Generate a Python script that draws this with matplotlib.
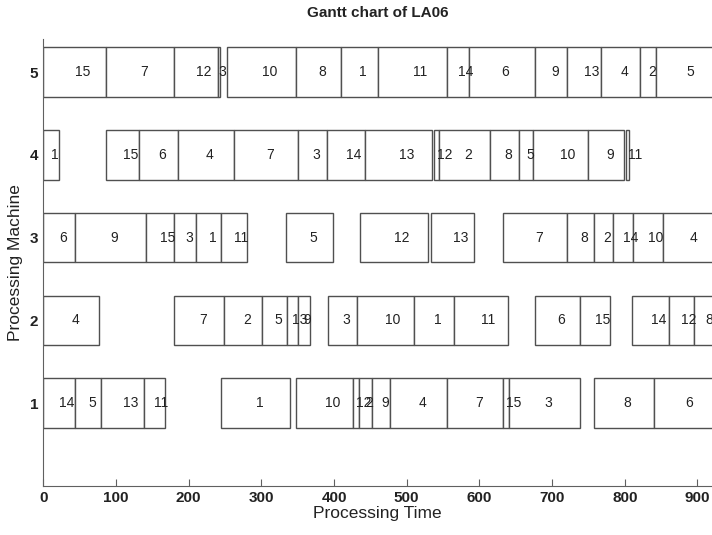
import matplotlib.pyplot as plt
from matplotlib.patches import Rectangle

plt.rcParams['font.family'] = ['Liberation Sans', 'DejaVu Sans']

# operations per machine: job number, start time, end time
m1_jobs = [14, 5, 13, 11, 1, 10, 12, 2, 9, 4, 7, 15, 3, 8, 6]
m1_start = [0, 43, 80, 139, 245, 348, 426, 435, 452, 477, 556, 632, 641, 757, 840]
m1_end = [43, 80, 139, 167, 340, 426, 435, 452, 477, 556, 632, 641, 739, 840, 926]

m2_jobs = [4, 7, 2, 5, 13, 9, 3, 10, 1, 11, 6, 15, 14, 12, 8]
m2_start = [0, 180, 249, 301, 335, 350, 392, 431, 510, 565, 676, 738, 810, 861, 895]
m2_end = [77, 249, 301, 335, 350, 367, 431, 510, 565, 640, 738, 780, 861, 895, 926]

m3_jobs = [6, 9, 15, 3, 1, 11, 5, 12, 13, 7, 8, 2, 14, 10, 4]
m3_start = [0, 43, 141, 180, 210, 245, 334, 436, 533, 633, 720, 758, 784, 811, 853]
m3_end = [43, 141, 180, 210, 245, 280, 399, 529, 593, 720, 758, 784, 811, 853, 926]

m4_jobs = [1, 15, 6, 4, 7, 3, 14, 13, 12, 2, 8, 5, 10, 9, 11]
m4_start = [0, 86, 132, 185, 263, 350, 391, 443, 538, 544, 614, 655, 674, 749, 802]
m4_end = [21, 132, 185, 263, 350, 391, 443, 535, 544, 614, 655, 674, 749, 799, 806]

m5_jobs = [15, 7, 12, 3, 10, 8, 1, 11, 14, 6, 9, 13, 4, 2, 5]
m5_start = [0, 86, 180, 240, 253, 348, 409, 461, 556, 585, 676, 721, 767, 821, 843]
m5_end = [86, 180, 240, 243, 348, 409, 461, 556, 585, 676, 721, 767, 821, 843, 926]

machines = [1, 2, 3, 4, 5]
schedule = [
    (m1_jobs, m1_start, m1_end),
    (m2_jobs, m2_start, m2_end),
    (m3_jobs, m3_start, m3_end),
    (m4_jobs, m4_start, m4_end),
    (m5_jobs, m5_start, m5_end),
]

fig = plt.figure(figsize=(7.12, 5.35), dpi=100)
ax = fig.add_axes([0.0608, 0.0916, 0.9392, 0.8355])

h = 0.3
for m, (jobs, starts, ends) in zip(machines, schedule):
    for j, s, e in zip(jobs, starts, ends):
        ax.add_patch(Rectangle((s, m - h), e - s, 2 * h, facecolor='white',
                               edgecolor='#505050', linewidth=1.0, zorder=2))
        # MATLAB-style label: left aligned at the middle of the bar
        ax.text((s + e) / 2, m, str(j), ha='left', va='center',
                fontsize=10, color='#222222', zorder=3)

ax.set_xlim(0, 920)
ax.set_ylim(0, 5.4)
ax.set_xticks(range(0, 1000, 100))
ax.set_yticks(machines)
ax.tick_params(direction='in', length=5, width=0.8, color='#606060',
               labelsize=11, labelcolor='#222222')
for lab in ax.get_xticklabels() + ax.get_yticklabels():
    lab.set_fontweight('bold')

for side in ['top', 'right']:
    ax.spines[side].set_visible(False)
for side in ['left', 'bottom']:
    ax.spines[side].set_color('#606060')
    ax.spines[side].set_linewidth(0.8)

ax.set_xlabel('Processing Time', fontsize=12.5, color='#222222', labelpad=1)
ax.set_ylabel('Processing Machine', fontsize=12.5, color='#222222', labelpad=5)
ax.set_title('Gantt chart of LA06', fontsize=11, fontweight='bold',
             color='#222222', pad=16)

fig.savefig('out.png', dpi=100)
